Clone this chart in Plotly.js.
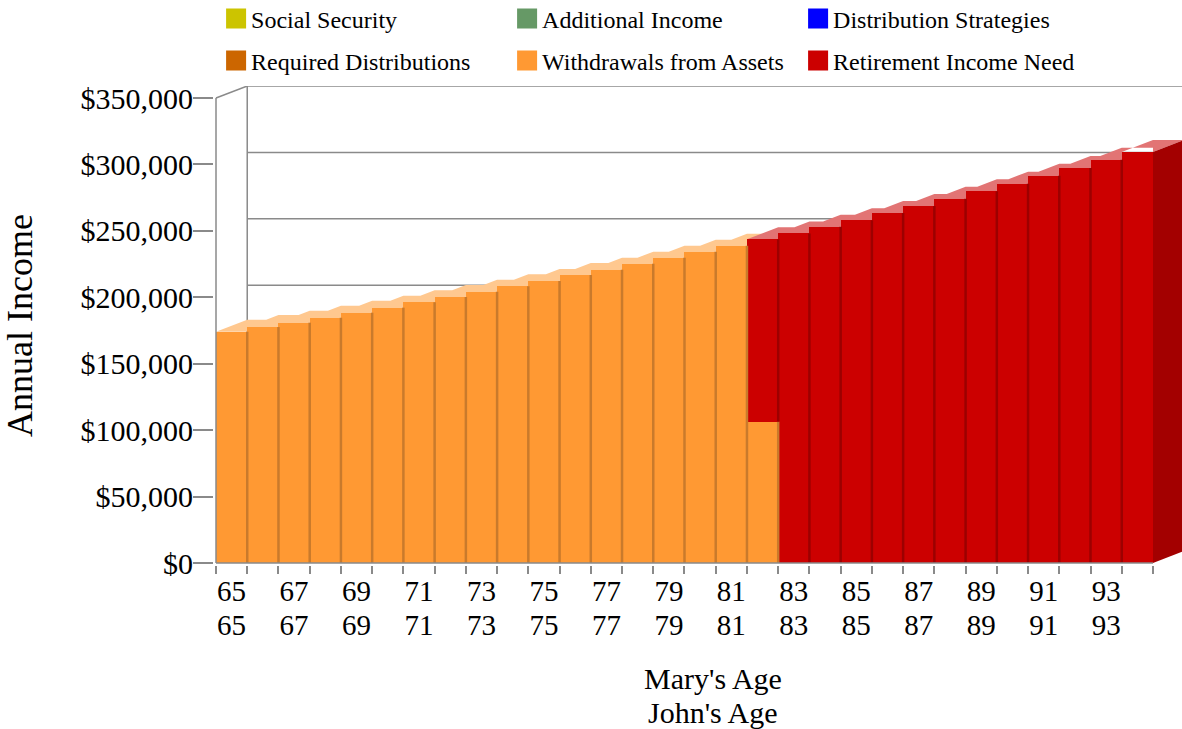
<!DOCTYPE html>
<html>
<head>
<meta charset="utf-8">
<script src="https://cdn.plot.ly/plotly-3.0.1.min.js"></script>
<style>
  html, body { margin: 0; padding: 0; background: #fff; }
  #chart { width: 1182px; height: 729px; }
</style>
</head>
<body>
<div id="chart"></div>
<script>
// ---------------- data ----------------
const ages = [65,66,67,68,69,70,71,72,73,74,75,76,77,78,79,80,81,82,83,84,85,86,87,88,89,90,91,92,93,94];

const socialSecurity        = [0,0,0,0,0,0,0,0,0,0,0,0,0,0,0,0,0,0,0,0,0,0,0,0,0,0,0,0,0,0];
const additionalIncome      = [0,0,0,0,0,0,0,0,0,0,0,0,0,0,0,0,0,0,0,0,0,0,0,0,0,0,0,0,0,0];
const distributionStrategies= [0,0,0,0,0,0,0,0,0,0,0,0,0,0,0,0,0,0,0,0,0,0,0,0,0,0,0,0,0,0];
const requiredDistributions = [0,0,0,0,0,0,0,0,0,0,0,0,0,0,0,0,0,0,0,0,0,0,0,0,0,0,0,0,0,0];
const withdrawalsFromAssets = [174100,177600,180900,184600,188400,192200,196200,200200,204200,208300,
                               212300,216800,220800,225300,229800,234300,238800,106400,0,0,
                               0,0,0,0,0,0,0,0,0,0];
const retirementIncomeNeed  = [0,0,0,0,0,0,0,0,0,0,
                               0,0,0,0,0,0,0,137200,248100,253100,
                               258000,263400,268700,274200,279800,285500,291500,297300,303500,309400];

const maryTickVals  = [65,67,69,71,73,75,77,79,81,83,85,87,89,91,93];
const maryAgeLabels = ['65','67','69','71','73','75','77','79','81','83','85','87','89','91','93'];
const johnAgeLabels = ['65','67','69','71','73','75','77','79','81','83','85','87','89','91','93'];

const yTickVals = [0,50000,100000,150000,200000,250000,300000,350000];
const yTickText = ['$0','$50,000','$100,000','$150,000','$200,000','$250,000','$300,000','$350,000'];

// ---------------- style ----------------
const FONT = 'Liberation Serif, Times New Roman, serif';
const GRAY = '#8a8a8a';
const DEPTH_X = 1;       // depth of the pseudo-3D effect, in category units
const DEPTH_Y = 9032;    // depth of the pseudo-3D effect, in value units
const PX_PER_CAT = 31.233;
const PX_PER_VAL = 465 / 350000;

const seriesDefs = [
  {name: 'Social Security',         values: socialSecurity,         color: '#CCC400', line: '#A39D00', top: '#E6E080', legend: 'legend'},
  {name: 'Additional Income',       values: additionalIncome,       color: '#669966', line: '#527A52', top: '#A3C2A3', legend: 'legend'},
  {name: 'Distribution Strategies', values: distributionStrategies, color: '#0000FF', line: '#0000C0', top: '#8080FF', legend: 'legend'},
  {name: 'Required Distributions',  values: requiredDistributions,  color: '#CC6600', line: '#A35200', top: '#E6B380', legend: 'legend2'},
  {name: 'Withdrawals from Assets', values: withdrawalsFromAssets,  color: '#FF9933', line: '#C97A2C', top: '#FFC88F', legend: 'legend2'},
  {name: 'Retirement Income Need',  values: retirementIncomeNeed,   color: '#CC0000', line: '#9C0000', top: '#E27474', legend: 'legend2'}
];

// axis ranges (plot area: x 214..1182, y 86..565)
const xMin = ages[0] - 0.5 - 2 / PX_PER_CAT;
const xMax = xMin + 968 / PX_PER_CAT;
const yMin = -2 / PX_PER_VAL;
const yMax = 350000 + DEPTH_Y;

const boundaries = ages.map(a => a - 0.5).concat([ages[ages.length - 1] + 0.5]);

// ---------------- pseudo-3D faces (drawn under the bars) ----------------
const totals = ages.map((_, i) => seriesDefs.reduce((s, d) => s + d.values[i], 0));
const faceX = seriesDefs.map(() => []);
const faceY = seriesDefs.map(() => []);
const sideX = [], sideY = [];
const sideColor = '#A30000';
ages.forEach((a, i) => {
  let k = -1;
  seriesDefs.forEach((d, j) => { if (d.values[i] > 0) k = j; });
  if (k < 0) return;
  const t = totals[i];
  const last = i === ages.length - 1;
  let px, py;
  if (!last) {
    px = [a - 0.5, a + 0.5, a + 0.5 + DEPTH_X, a + 0.5 + DEPTH_X, a - 0.5];
    py = [t, t + DEPTH_Y, t + DEPTH_Y, t, t];
  } else {
    px = [a - 0.5, a + 0.5, a + 0.5 + DEPTH_X, a - 0.5 + DEPTH_X, a - 0.5];
    py = [t, t, t + DEPTH_Y, t + DEPTH_Y, t];
    sideX.push(a + 0.5, a + 0.5, a + 0.5 + DEPTH_X, a + 0.5 + DEPTH_X, a + 0.5);
    sideY.push(0, t, t + DEPTH_Y, DEPTH_Y, 0);
  }
  faceX[k].push(...px, null);
  faceY[k].push(...py, null);
});

const traces = [];
seriesDefs.forEach((d, j) => {
  if (!faceX[j].length) return;
  traces.push({
    type: 'scatter', mode: 'lines', x: faceX[j], y: faceY[j],
    fill: 'toself', fillcolor: d.top, line: {width: 0, color: d.top},
    hoverinfo: 'skip', showlegend: false, xaxis: 'x', yaxis: 'y'
  });
});
traces.push({
  type: 'scatter', mode: 'lines', x: sideX, y: sideY,
  fill: 'toself', fillcolor: sideColor, line: {width: 0, color: sideColor},
  hoverinfo: 'skip', showlegend: false, xaxis: 'x', yaxis: 'y'
});

// ---------------- bars ----------------
seriesDefs.forEach(d => {
  const hasData = d.values.some(v => v > 0);
  traces.push({
    type: 'bar', name: d.name, x: ages,
    y: hasData ? d.values.map(v => (v > 0 ? v : null)) : d.values,
    width: 1,
    marker: {color: d.color, line: {color: d.color, width: 0}},
    xaxis: 'x2', yaxis: 'y2', legend: d.legend,
    hovertemplate: '%{x}: $%{y:,.0f}<extra>' + d.name + '</extra>'
  });
});

// darker right edge of every bar segment (shading between adjacent bars)
const base = ages.map(() => 0);
seriesDefs.forEach(d => {
  const ex = [], ey = [];
  ages.forEach((a, i) => {
    const v = d.values[i];
    if (v > 0 && i < ages.length - 1) {
      ex.push(a + 0.5, a + 0.5, null);
      ey.push(base[i], base[i] + v, null);
    }
    base[i] += v;
  });
  if (ex.length) {
    traces.push({
      type: 'scatter', mode: 'lines', x: ex, y: ey,
      line: {color: d.line, width: 2.5}, hoverinfo: 'skip', showlegend: false,
      xaxis: 'x2', yaxis: 'y2'
    });
  }
});

// ---------------- back walls, grid, axis lines ----------------
const shapes = [];
const backLeft = ages[0] - 0.5 + DEPTH_X;
const yTop = yTickVals[yTickVals.length - 1];
yTickVals.forEach(v => {
  if (v === 0) return;
  shapes.push({type: 'line', xref: 'x', yref: 'y', layer: 'below',
    x0: backLeft, x1: xMax + 1, y0: v + DEPTH_Y, y1: v + DEPTH_Y,
    line: {color: GRAY, width: 1.5}});
});
shapes.push({type: 'line', xref: 'x', yref: 'y', layer: 'below',
  x0: backLeft, x1: backLeft, y0: DEPTH_Y, y1: yTop + DEPTH_Y,
  line: {color: GRAY, width: 1.5}});
shapes.push({type: 'line', xref: 'x', yref: 'y', layer: 'below',
  x0: ages[0] - 0.5, x1: backLeft, y0: yTop, y1: yTop + DEPTH_Y,
  line: {color: GRAY, width: 1.5}});
shapes.push({type: 'line', xref: 'x', yref: 'y', layer: 'above',
  x0: ages[0] - 0.5, x1: ages[0] - 0.5, y0: 0, y1: yTop,
  line: {color: GRAY, width: 1.5}});
shapes.push({type: 'line', xref: 'x', yref: 'y', layer: 'above',
  x0: ages[0] - 0.5, x1: ages[ages.length - 1] + 0.5, y0: 0, y1: 0,
  line: {color: GRAY, width: 1.5}});

const commonX = {range: [xMin, xMax], fixedrange: true, showgrid: false, zeroline: false, showline: false};
const tickFont = {family: FONT, size: 29, color: '#000'};

const legendCommon = {
  orientation: 'h', x: -0.003, xanchor: 'left', yanchor: 'middle',
  entrywidth: 246, entrywidthmode: 'pixels', traceorder: 'normal',
  font: {family: FONT, size: 24, color: '#000'}, bgcolor: 'rgba(0,0,0,0)', borderwidth: 0,
  itemclick: false, itemdoubleclick: false
};

const layout = {
  width: 1182, height: 729,
  margin: {l: 214, r: 0, t: 86, b: 164, pad: 0, autoexpand: false},
  paper_bgcolor: '#ffffff', plot_bgcolor: '#ffffff',
  font: {family: FONT, color: '#000000', size: 29},
  barmode: 'stack', bargap: 0,
  showlegend: true,
  // main x axis: boundary ticks (minor) + John's ages
  xaxis: Object.assign({}, commonX, {
    tickmode: 'array', tickvals: maryTickVals, ticktext: johnAgeLabels,
    ticks: '', tickfont: tickFont, ticklabelstandoff: 40, automargin: false,
    minor: {tickmode: 'array', tickvals: boundaries, ticks: 'outside', ticklen: 8,
            tickwidth: 1.5, tickcolor: GRAY, showgrid: false}
  }),
  // bar x axis: Mary's ages
  xaxis2: Object.assign({}, commonX, {
    overlaying: 'x', anchor: 'y', side: 'bottom', automargin: false,
    tickmode: 'array', tickvals: maryTickVals, ticktext: maryAgeLabels,
    ticks: '', tickfont: tickFont, ticklabelstandoff: 6
  }),
  yaxis: {
    range: [yMin, yMax], fixedrange: true, showgrid: false, zeroline: false, showline: false,
    automargin: false,
    tickmode: 'array', tickvals: yTickVals, ticktext: yTickText,
    ticks: 'outside', ticklen: 20, tickwidth: 1.5, tickcolor: GRAY,
    tickfont: {family: FONT, size: 30, color: '#000'}, ticklabelstandoff: -6,
    title: {text: 'Annual Income', font: {family: FONT, size: 36, color: '#000'}, standoff: 40}
  },
  yaxis2: {overlaying: 'y', range: [yMin, yMax], visible: false, fixedrange: true},
  legend: Object.assign({}, legendCommon, {y: (565 - 19) / 479}),
  legend2: Object.assign({}, legendCommon, {y: (565 - 61) / 479}),
  shapes: shapes,
  annotations: [
    {text: "Mary's Age", xref: 'paper', yref: 'paper', x: (713 - 214) / 968, y: (565 - 678) / 479,
     xanchor: 'center', yanchor: 'middle', showarrow: false, font: {family: FONT, size: 30, color: '#000'}},
    {text: "John's Age", xref: 'paper', yref: 'paper', x: (713 - 214) / 968, y: (565 - 712) / 479,
     xanchor: 'center', yanchor: 'middle', showarrow: false, font: {family: FONT, size: 30, color: '#000'}}
  ]
};

Plotly.newPlot('chart', traces, layout, {displayModeBar: false, responsive: false}).then(gd => {
  // enlarge legend swatches to match the reference's square keys
  gd.querySelectorAll('g.legendpoints path').forEach(p => {
    p.setAttribute('transform', 'translate(25,0) scale(1.667)');
    p.style.strokeWidth = '0';
  });
});
</script>
</body>
</html>
